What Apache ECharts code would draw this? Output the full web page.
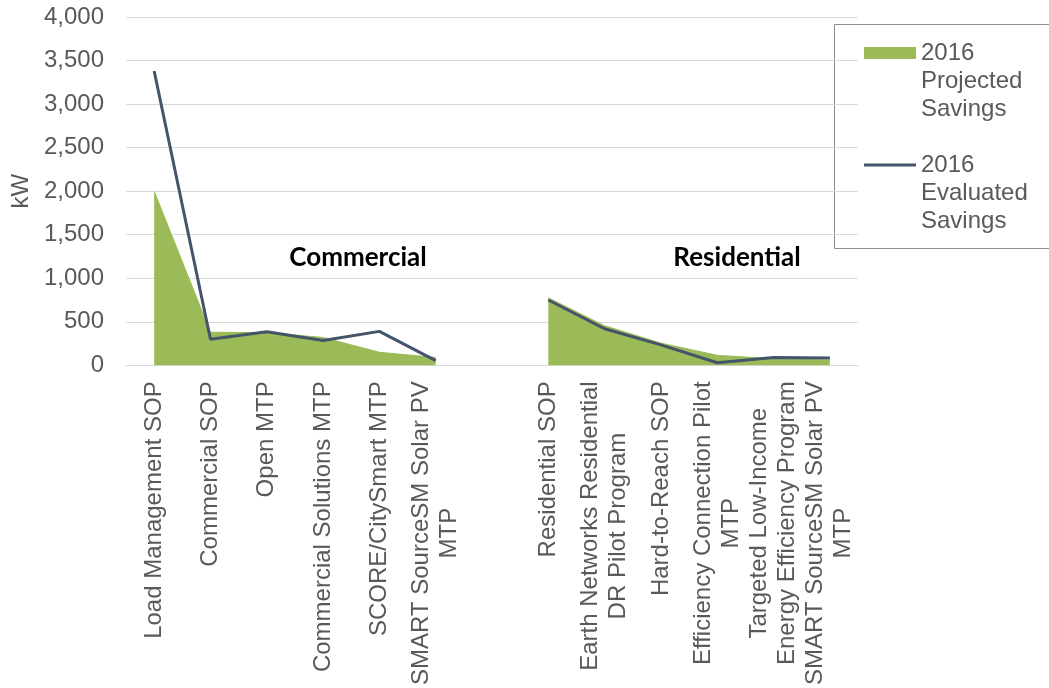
<!DOCTYPE html>
<html>
<head>
<meta charset="utf-8">
<title>2016 Projected vs Evaluated Savings (kW)</title>
<script src="https://cdn.jsdelivr.net/npm/echarts@6/dist/echarts.min.js"></script>
<style>
  html, body { margin: 0; padding: 0; background: #ffffff; }
  #chart { width: 1049px; height: 688px; }
</style>
</head>
<body>
<div id="chart"></div>
<script>
// Program names; '\n' marks where a long name wraps. The empty entry separates the two sectors.
const programs = [
  'Load Management SOP',
  'Commercial SOP',
  'Open MTP',
  'Commercial Solutions MTP',
  'SCORE/CitySmart MTP',
  'SMART SourceSM Solar PV\nMTP',
  '',
  'Residential SOP',
  'Earth Networks Residential\nDR Pilot Program',
  'Hard-to-Reach SOP',
  'Efficiency Connection Pilot\nMTP',
  'Targeted Low-Income\nEnergy Efficiency Program',
  'SMART SourceSM Solar PV\nMTP'
];

// Demand savings in kW
const projectedSavings = [2000, 380, 375, 320, 150, 90, null, 775, 455, 255, 115, 75, 60];
const evaluatedSavings = [3380, 300, 385, 285, 390, 55, null, 750, 420, 235, 30, 90, 85];

const seriesNames = ['2016 Projected Savings', '2016 Evaluated Savings'];
const sectorLabels = ['Commercial', 'Residential'];

const yTicks = { min: 0, max: 4000, step: 500 };

const GREEN = '#9BBB59';
const SLATE = '#44546A';
const TEXT = '#595959';
const GRID = '#D9D9D9';
const FONT = '"Liberation Sans", Arial, sans-serif';
const FONT_SIZE = 24;

const chart = echarts.init(document.getElementById('chart'), null, { renderer: 'canvas' });

chart.setOption({
  animation: false,
  backgroundColor: '#ffffff',
  grid: { left: 126, right: 191, top: 17, bottom: 321, containLabel: false },
  xAxis: {
    type: 'category',
    data: programs,
    boundaryGap: true,
    axisLine: { show: true, lineStyle: { color: GRID, width: 1 } },
    axisTick: { show: false },
    axisLabel: {
      interval: 0,
      rotate: 90,
      margin: 16,
      // each wrapped line is centred within the label block
      formatter: (v) => v.split('\n').map((l) => '{c|' + l + '}').join('\n'),
      rich: {
        c: { align: 'center', fontFamily: FONT, fontSize: FONT_SIZE, lineHeight: 28, color: TEXT }
      }
    }
  },
  yAxis: {
    type: 'value',
    min: yTicks.min,
    max: yTicks.max,
    interval: yTicks.step,
    name: 'kW',
    nameLocation: 'middle',
    nameRotate: 90,
    nameGap: 93,
    nameTextStyle: { fontFamily: FONT, fontSize: FONT_SIZE, color: TEXT },
    axisLine: { show: false },
    axisTick: { show: false },
    axisLabel: {
      margin: 22,
      fontFamily: FONT,
      fontSize: FONT_SIZE,
      color: TEXT,
      formatter: (v) => v.toLocaleString('en-US')
    },
    splitLine: { show: true, lineStyle: { color: GRID, width: 1 } }
  },
  legend: {
    orient: 'vertical',
    left: 864,
    top: 39,
    padding: 0,
    itemGap: 28,
    itemWidth: 52,
    itemHeight: 84,
    itemStyle: { borderWidth: 0 },
    formatter: (name) => name.split(' ').join('\n'),
    textStyle: { fontFamily: FONT, fontSize: FONT_SIZE, lineHeight: 28, color: TEXT },
    data: [
      // icons keep the swatch level with the first text line
      { name: seriesNames[0], icon: 'path://M0,0M0,8L52,8L52,20L0,20ZM52,84' },
      { name: seriesNames[1], icon: 'path://M0,0M0,12.5L52,12.5L52,15.5L0,15.5ZM52,84' }
    ]
  },
  graphic: [
    {
      type: 'rect',
      left: 832,
      top: 22,
      shape: { x: 0.5, y: 0.5, width: 260, height: 224 },
      style: { fill: 'none', stroke: '#8C8C8C', lineWidth: 1 },
      silent: true
    },
    {
      type: 'text',
      x: 358,
      y: 258,
      style: {
        text: sectorLabels[0],
        fontFamily: 'Lato, "Liberation Sans", sans-serif',
        fontWeight: 'bold',
        fontSize: 26,
        fill: '#000000',
        align: 'center',
        verticalAlign: 'middle'
      }
    },
    {
      type: 'text',
      x: 737,
      y: 258,
      style: {
        text: sectorLabels[1],
        fontFamily: 'Lato, "Liberation Sans", sans-serif',
        fontWeight: 'bold',
        fontSize: 26,
        fill: '#000000',
        align: 'center',
        verticalAlign: 'middle'
      }
    }
  ],
  series: [
    {
      name: seriesNames[0],
      type: 'line',
      data: projectedSavings,
      symbol: 'none',
      connectNulls: false,
      itemStyle: { color: GREEN },
      lineStyle: { color: GREEN, width: 1 },
      areaStyle: { color: GREEN, opacity: 1 },
      z: 2
    },
    {
      name: seriesNames[1],
      type: 'line',
      data: evaluatedSavings,
      symbol: 'none',
      connectNulls: false,
      itemStyle: { color: SLATE },
      lineStyle: { color: SLATE, width: 3 },
      z: 3
    }
  ]
});
</script>
</body>
</html>
